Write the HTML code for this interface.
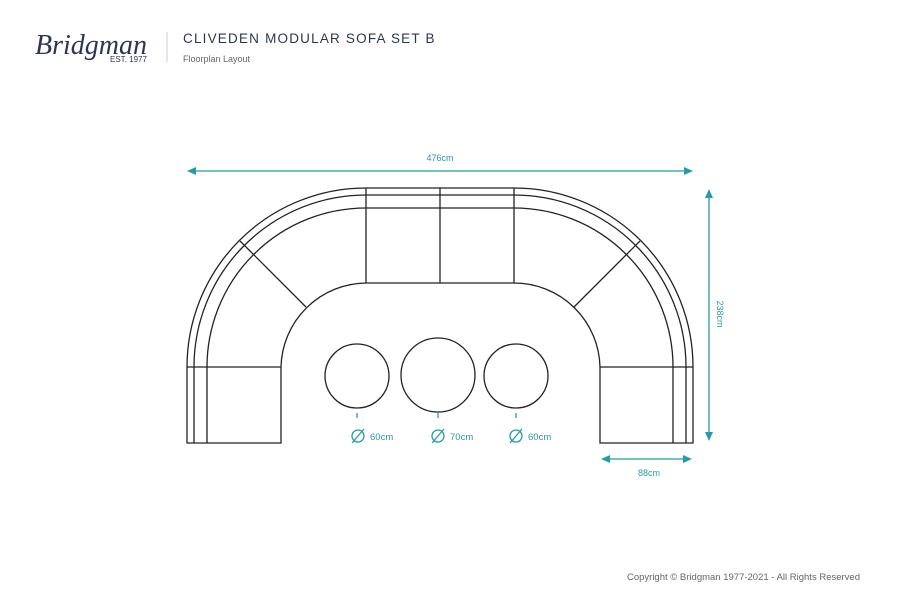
<!DOCTYPE html>
<html><head><style>
body{margin:0;background:#fff;width:900px;height:600px;overflow:hidden}
</style></head><body>
<svg width="900" height="600" xmlns="http://www.w3.org/2000/svg" font-family="Liberation Sans, sans-serif">
<text x="35" y="54" font-family="Liberation Serif, serif" font-style="italic" font-size="28" fill="#2e3550">Bridgman</text>
<text x="110" y="62" font-size="8" fill="#2e3550">EST. 1977</text>
<line x1="167" y1="32" x2="167" y2="62" stroke="#ccc" stroke-width="1"/>
<text x="183" y="43" font-size="13.5" letter-spacing="1.2" fill="#2e3550">CLIVEDEN MODULAR SOFA SET B</text>
<text x="183" y="62" font-size="9" fill="#666">Floorplan Layout</text>
<g fill="none" stroke="#222" stroke-width="1.3">
<path d="M187 443 V367 A179 179 0 0 1 366 188 H514 A179 179 0 0 1 693 367 V443 H600 V367 A86 86 0 0 0 514 283 H366 A86 86 0 0 0 281 367 V443 Z"/>
<path d="M194 443 V367 A172 172 0 0 1 366 195 H514 A172 172 0 0 1 686 367 V443"/>
<path d="M207 443 V367 A159 159 0 0 1 366 208 H514 A159 159 0 0 1 673 367 V443"/>
<line x1="187" y1="367" x2="281" y2="367"/>
<line x1="600" y1="367" x2="693" y2="367"/>
<line x1="366" y1="188" x2="366" y2="283"/>
<line x1="440" y1="188" x2="440" y2="283"/>
<line x1="514" y1="188" x2="514" y2="283"/>
<line x1="240" y1="241" x2="306" y2="307"/>
<line x1="640" y1="241" x2="574" y2="307"/>
<circle cx="357" cy="376" r="32"/>
<circle cx="438" cy="375" r="37"/>
<circle cx="516" cy="376" r="32"/>
</g>
<g stroke="#2a9aa5" stroke-width="1.3" fill="#2a9aa5">
<line x1="190" y1="171" x2="690" y2="171"/>
<path d="M187 171 l9 -4 v8z M693 171 l-9 -4 v8z" stroke="none"/>
<line x1="709" y1="192" x2="709" y2="438"/>
<path d="M709 189 l-4 9 h8z M709 441 l-4 -9 h8z" stroke="none"/>
<line x1="604" y1="459" x2="689" y2="459"/>
<path d="M601 459 l9 -4 v8z M692 459 l-9 -4 v8z" stroke="none"/>
<line x1="357" y1="413" x2="357" y2="418"/>
<line x1="438" y1="413" x2="438" y2="418"/>
<line x1="516" y1="413" x2="516" y2="418"/>
</g>
<g fill="#2a9aa5" font-size="9">
<text x="440" y="161" text-anchor="middle">476cm</text>
<text x="649" y="476" text-anchor="middle">88cm</text>
<text transform="translate(717,314) rotate(90)" text-anchor="middle">238cm</text>
</g>
<g fill="none" stroke="#2a9aa5" stroke-width="1.3">
<circle cx="358" cy="436" r="6"/><line x1="352" y1="443" x2="364" y2="429"/>
<circle cx="438" cy="436" r="6"/><line x1="432" y1="443" x2="444" y2="429"/>
<circle cx="516" cy="436" r="6"/><line x1="510" y1="443" x2="522" y2="429"/>
</g>
<g fill="#2a9aa5" font-size="9.5">
<text x="370" y="440">60cm</text>
<text x="450" y="440">70cm</text>
<text x="528" y="440">60cm</text>
</g>
<text x="860" y="580" text-anchor="end" font-size="9.5" fill="#666">Copyright © Bridgman 1977-2021 - All Rights Reserved</text>
</svg>
</body></html>
